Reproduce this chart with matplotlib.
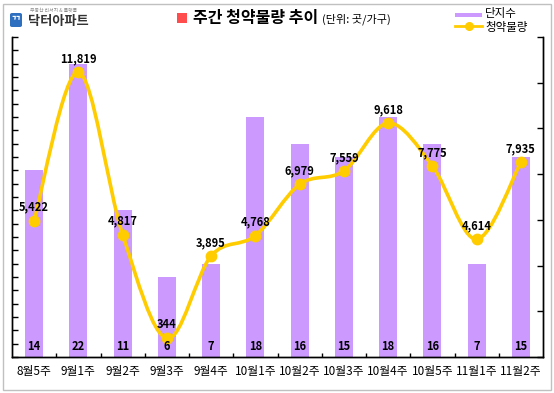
import matplotlib.pyplot as plt
import numpy as np
from matplotlib.path import Path
from matplotlib.patches import PathPatch, Rectangle, FancyBboxPatch
from matplotlib.lines import Line2D

plt.rcParams["font.family"] = ["Noto Sans CJK KR", "DejaVu Sans"]

weeks = ["8월5주", "9월1주", "9월2주", "9월3주", "9월4주", "10월1주",
         "10월2주", "10월3주", "10월4주", "10월5주", "11월1주", "11월2주"]
complexes = [14, 22, 11, 6, 7, 18, 16, 15, 18, 16, 7, 15]
supply = [5422, 11819, 4817, 344, 3895, 4768, 6979, 7559, 9618, 7775, 4614, 7935]

BAR_COLOR = "#CC99FF"
LINE_COLOR = "#FFCC00"

W, H = 554, 393
fig = plt.figure(figsize=(W / 100, H / 100), dpi=100)


def px(x, y):
    # pixel coords (from top-left) -> figure fraction
    return x / W, 1 - y / H


# outer frame
fig.patches.append(Rectangle(px(2.5, 389.5), 548 / W, 386 / H, transform=fig.transFigure,
                             fill=False, edgecolor="#C0C0C0", linewidth=1))

ax = fig.add_axes([12 / W, 1 - 357 / H, 531 / W, 320 / H])
ax2 = ax.twinx()

x = np.arange(len(weeks))

# bars (left axis)
ax.bar(x, complexes, width=0.41, color=BAR_COLOR, zorder=2)
ax.set_ylim(0, 24)
ax.set_xlim(-0.5, len(weeks) - 0.5)
ax.set_yticks(np.arange(0, 25, 1))
ax.set_yticklabels([])
ax.tick_params(axis="y", direction="in", length=4, width=1)
ax.set_xticks(x)
ax.set_xticklabels(weeks, fontsize=8.5)
ax.tick_params(axis="x", length=0, pad=6)
ax.set_xticks(x[:-1] + 0.5, minor=True)
ax.tick_params(axis="x", which="minor", direction="in", length=3, width=1)

# smooth line (right axis) - Catmull-Rom through the weekly points
pts = np.column_stack([x, supply]).astype(float)
ext = np.vstack([pts[0], pts, pts[-1]])
verts = [tuple(pts[0])]
codes = [Path.MOVETO]
for i in range(len(pts) - 1):
    p0, p1, p2, p3 = ext[i], ext[i + 1], ext[i + 2], ext[i + 3]
    c1 = p1 + (p2 - p0) / 6
    c2 = p2 - (p3 - p1) / 6
    verts += [tuple(c1), tuple(c2), tuple(p2)]
    codes += [Path.CURVE4] * 3
ax2.add_patch(PathPatch(Path(verts, codes), facecolor="none", edgecolor=LINE_COLOR,
                        linewidth=2.6, zorder=3))
ax2.plot(x, supply, linestyle="none", marker="o", markersize=7.5, color=LINE_COLOR, zorder=4)
ax2.set_ylim(-460, 13330)
ax2.set_yticks(np.linspace(-460, 13330, 8))
ax2.set_yticklabels([])
ax2.tick_params(axis="y", direction="in", length=4, width=1)
for i, v in enumerate(supply):
    ax2.annotate(f"{v:,}", (x[i], v), xytext=(0, 5), textcoords="offset points",
                 ha="center", va="bottom", fontsize=8, fontweight="bold", zorder=6)

# bar values at the foot of each bar, drawn above the line
for i, v in enumerate(complexes):
    ax2.annotate(str(v), (x[i], 0), xycoords=ax2.get_xaxis_transform(), xytext=(0, 3),
                 textcoords="offset points", ha="center", va="bottom", fontsize=8,
                 fontweight="bold", zorder=6)

for a in (ax, ax2):
    a.spines["top"].set_visible(False)
    for s in ("left", "right", "bottom"):
        a.spines[s].set_linewidth(1)
        a.spines[s].set_color("black")

# title
fig.patches.append(Rectangle(px(177, 23), 10 / W, 10 / H, transform=fig.transFigure,
                             facecolor="#FF4D4D", edgecolor="none"))
fig.text(*px(193, 18.5), "주간 청약물량 추이", fontsize=11.5, fontweight="bold",
         ha="left", va="center")
fig.text(*px(322, 19.5), "(단위: 곳/가구)", fontsize=8, ha="left", va="center")

# logo
fig.patches.append(FancyBboxPatch(px(10, 27), 12 / W, 14 / H, transform=fig.transFigure,
                                  boxstyle="round,pad=0,rounding_size=0.004",
                                  facecolor="#2F6FC0", edgecolor="none"))
fig.text(*px(16, 20.5), "ᄁ", fontsize=8, fontweight="bold", color="white",
         ha="center", va="center")
fig.text(*px(30, 10.5), "부동산 리서치 & 플랫폼", fontsize=3.5, color="#8A8A8A",
         ha="left", va="center")
fig.text(*px(28, 20.5), "닥터아파트", fontsize=9.5, fontweight="bold", color="#333333",
         ha="left", va="center")

# legend
fig.patches.append(Rectangle(px(455, 17), 27 / W, 4 / H, transform=fig.transFigure,
                             facecolor=BAR_COLOR, edgecolor="none"))
fig.text(*px(485, 14), "단지수", fontsize=8.3, ha="left", va="center")
fig.lines.append(Line2D([455 / W, 482 / W], [1 - 26 / H] * 2, transform=fig.transFigure,
                        color=LINE_COLOR, linewidth=2))
fig.lines.append(Line2D([468.5 / W], [1 - 26 / H], transform=fig.transFigure,
                        marker="o", markersize=5.5, color=LINE_COLOR))
fig.text(*px(485, 27.5), "청약물량", fontsize=8.3, ha="left", va="center")

fig.savefig("out.png", dpi=100)
